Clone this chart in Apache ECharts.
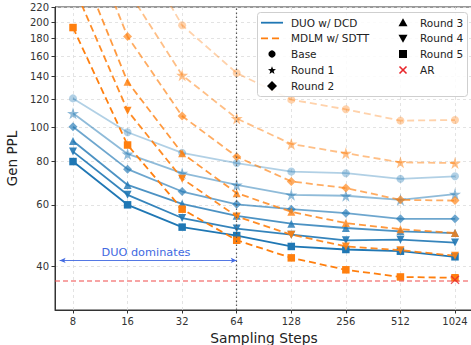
<!DOCTYPE html>
<html>
<head>
<meta charset="utf-8">
<script src="https://cdn.jsdelivr.net/npm/echarts@6/dist/echarts.min.js"></script>
<style>
  html, body { margin: 0; padding: 0; background: #fff; }
  #chart { width: 471px; height: 345px; }
</style>
</head>
<body>
<div id="chart"></div>
<script>
// sampling steps and y ticks
const steps = [8, 16, 32, 64, 128, 256, 512, 1024];
const yTicks = [40, 60, 80, 100, 120, 140, 160, 180, 200, 220];
const rounds = ['Base', 'Round 1', 'Round 2', 'Round 3', 'Round 4', 'Round 5'];

// DUO w/ DCD (solid blue)
const duoBase = [121, 96.8, 84.5, 79.0, 74.7, 73.9, 71.2, 72.4];
const duoR1 = [109.7, 83.9, 73.9, 68.4, 64.1, 63.7, 62.0, 64.4];
const duoR2 = [100.4, 75.9, 65.5, 60.2, 58.3, 56.8, 54.7, 54.7];
const duoR3 = [91.4, 68.4, 60.4, 55.8, 53.0, 51.5, 50.4, 49.8];
const duoR4 = [85.2, 64.1, 55.0, 51.3, 49.3, 47.5, 47.7, 46.8];
const duoR5 = [79.8, 60.0, 51.8, 49.0, 45.6, 44.7, 44.2, 42.6];

// MDLM w/ SDTT (dashed orange)
const mdlmBase = [700, 362, 196, 143, 120, 112.6, 104.5, 104.9];
const mdlmR1 = [480, 247, 141, 106, 89.6, 84.3, 79.4, 79.0];
const mdlmR2 = [444, 182, 107.7, 82.4, 70.0, 67.0, 62.0, 61.7];
const mdlmR3 = [327, 135, 84.3, 64.8, 57.3, 53.2, 51.1, 49.8];
const mdlmR4 = [256, 111.6, 71.3, 55.6, 49.3, 45.6, 44.5, 42.9];
const mdlmR5 = [193, 89.0, 58.3, 47.5, 42.3, 39.1, 37.3, 37.1];

// AR reference
const arPPL = 36.3;
const arPoint = [1024, 36.6];

const FONT = 'DejaVu Sans';
const BLUE = '#1f77b4';
const ORANGE = '#ff7f0e';
const STAR = 'path://M50,0L61,35L98,35L68,57L79,91L50,70L21,91L32,57L2,35L39,35Z';
const CROSS = 'path://M0,1L1,0L5,4L9,0L10,1L6,5L10,9L9,10L5,6L1,10L0,9L4,5Z';
const shapes = ['circle', STAR, 'diamond', 'triangle', 'triangle', 'rect'];
const rotates = [0, 0, 0, 0, 180, 0];
const sizes = [8, 12, 9, 8, 8, 7.5];
const alphas = [0.35, 0.5, 0.65, 0.8, 0.9, 1];

const duoRuns = [duoBase, duoR1, duoR2, duoR3, duoR4, duoR5];
const mdlmRuns = [mdlmBase, mdlmR1, mdlmR2, mdlmR3, mdlmR4, mdlmR5];

function makeSeries(name, runs, color, dashed) {
  return runs.map((vals, i) => ({
    name: name + ' ' + rounds[i],
    type: 'line',
    data: steps.map((s, j) => [s, vals[j]]),
    symbol: shapes[i],
    symbolRotate: rotates[i],
    symbolSize: sizes[i],
    showAllSymbol: true,
    clip: true,
    silent: true,
    lineStyle: { color: color, width: 1.8, opacity: alphas[i], type: dashed ? [7, 4] : 'solid' },
    itemStyle: { color: color, opacity: alphas[i] },
    z: dashed ? 3 : 2
  }));
}

// legend drawn by hand (two columns, like matplotlib)
function starPts(cx, cy, r) {
  const pts = [];
  for (let i = 0; i < 10; i++) {
    const a = -Math.PI / 2 + i * Math.PI / 5;
    const rr = i % 2 ? r * 0.42 : r;
    pts.push([cx + rr * Math.cos(a), cy + rr * Math.sin(a)]);
  }
  return pts;
}
const rowY = [22.7, 38.3, 54, 70, 86];
const c1 = 272, c2 = 403, t1 = 291, t2 = 420;
function label(x, y, text) {
  return { type: 'text', x: x, y: y, style: { text: text, font: '10.5px "DejaVu Sans"', fill: '#222', verticalAlign: 'middle' }, z: 101 };
}
const legend = [
  { type: 'rect', shape: { x: 257.5, y: 12.5, width: 210, height: 84, r: 3 }, style: { fill: 'rgba(255,255,255,0.85)', stroke: '#cfcfcf', lineWidth: 1 }, z: 100 },
  { type: 'line', shape: { x1: 261, y1: rowY[0], x2: 283, y2: rowY[0] }, style: { stroke: BLUE, lineWidth: 1.8 }, z: 101 },
  { type: 'line', shape: { x1: 261, y1: rowY[1], x2: 283, y2: rowY[1] }, style: { stroke: ORANGE, lineWidth: 1.8, lineDash: [7, 4] }, z: 101 },
  { type: 'circle', shape: { cx: c1, cy: rowY[2], r: 3.6 }, style: { fill: '#000' }, z: 101 },
  { type: 'polygon', shape: { points: starPts(c1, rowY[3] + 0.5, 4.2) }, style: { fill: '#000' }, z: 101 },
  { type: 'polygon', shape: { points: [[c1, rowY[4] - 5], [c1 + 5, rowY[4]], [c1, rowY[4] + 5], [c1 - 5, rowY[4]]] }, style: { fill: '#000' }, z: 101 },
  { type: 'polygon', shape: { points: [[c2, rowY[0] - 4.5], [c2 + 4.5, rowY[0] + 3.5], [c2 - 4.5, rowY[0] + 3.5]] }, style: { fill: '#000' }, z: 101 },
  { type: 'polygon', shape: { points: [[c2, rowY[1] + 4.5], [c2 + 4.5, rowY[1] - 3.5], [c2 - 4.5, rowY[1] - 3.5]] }, style: { fill: '#000' }, z: 101 },
  { type: 'rect', shape: { x: c2 - 4, y: rowY[2] - 4, width: 8, height: 8 }, style: { fill: '#000' }, z: 101 },
  { type: 'line', shape: { x1: c2 - 3.5, y1: rowY[3] - 3.5, x2: c2 + 3.5, y2: rowY[3] + 3.5 }, style: { stroke: '#e8262b', lineWidth: 1.6 }, z: 101 },
  { type: 'line', shape: { x1: c2 - 3.5, y1: rowY[3] + 3.5, x2: c2 + 3.5, y2: rowY[3] - 3.5 }, style: { stroke: '#e8262b', lineWidth: 1.6 }, z: 101 },
  label(t1, rowY[0], 'DUO w/ DCD'),
  label(t1, rowY[1], 'MDLM w/ SDTT'),
  label(t1, rowY[2], 'Base'),
  label(t1, rowY[3], 'Round 1'),
  label(t1, rowY[4], 'Round 2'),
  label(t2, rowY[0], 'Round 3'),
  label(t2, rowY[1], 'Round 4'),
  label(t2, rowY[2], 'Round 5'),
  label(t2, rowY[3], 'AR'),
  { type: 'text', x: 146, y: 252, style: { text: 'DUO dominates', font: '11.3px "DejaVu Sans"', fill: '#4169e1', align: 'center', verticalAlign: 'middle' }, z: 50 }
];

const chart = echarts.init(document.getElementById('chart'), null, { renderer: 'svg' });

chart.setOption({
  animation: false,
  textStyle: { fontFamily: FONT },
  grid: {
    left: 55, top: 7, width: 418, height: 303,
    outerBoundsMode: 'none',
    containLabel: false,
    show: true, borderColor: '#333', borderWidth: 1, backgroundColor: 'transparent'
  },
  xAxis: {
    type: 'log',
    logBase: 2,
    min: Math.pow(2, 3 - 0.33),
    max: Math.pow(2, 10 + 0.33),
    name: 'Sampling Steps',
    nameLocation: 'middle',
    nameGap: 19,
    nameTextStyle: { fontSize: 13.8, color: '#222', fontFamily: FONT, verticalAlign: 'top' },
    axisLine: { lineStyle: { color: '#333', width: 1 } },
    axisTick: { show: true, length: 3.5, customValues: steps, lineStyle: { color: '#333' } },
    axisLabel: { customValues: steps, fontSize: 10, color: '#333', margin: 6, formatter: v => String(v) },
    splitLine: { show: true, lineStyle: { color: '#dcdcdc', type: [3, 3], width: 0.8 } },
    minorTick: { show: false },
    minorSplitLine: { show: false }
  },
  yAxis: {
    type: 'log',
    min: 30,
    max: 221,
    name: 'Gen PPL',
    nameLocation: 'middle',
    nameGap: 35,
    nameTextStyle: { fontSize: 13.5, color: '#222', fontFamily: FONT },
    axisLine: { show: true, lineStyle: { color: '#333', width: 1 } },
    axisTick: { show: true, length: 3.5, customValues: yTicks, lineStyle: { color: '#333' } },
    axisLabel: { customValues: yTicks, fontSize: 10, color: '#333', margin: 6, formatter: v => String(v) },
    splitLine: { show: true, lineStyle: { color: '#dcdcdc', type: [3, 3], width: 0.8 } },
    minorTick: { show: false },
    minorSplitLine: { show: false }
  },
  graphic: legend,
  series: [
    ...makeSeries('DUO', duoRuns, BLUE, false),
    ...makeSeries('MDLM', mdlmRuns, ORANGE, true),
    {
      name: 'AR',
      type: 'scatter',
      data: [arPoint],
      symbol: CROSS,
      symbolSize: 9,
      itemStyle: { color: '#e8262b' },
      silent: true,
      z: 5,
      markLine: {
        silent: true,
        symbol: 'none',
        label: { show: false },
        data: [
          { yAxis: arPPL, lineStyle: { color: 'rgba(240,70,70,0.65)', width: 1.6, type: [5, 3] } },
          { xAxis: 64, lineStyle: { color: '#555', width: 1.2, type: [1.5, 2.5] } },
          [
            { coord: [6.75, 41.6], symbol: 'arrow', symbolSize: [4, 6], lineStyle: { color: '#4169e1', width: 0.9, type: 'solid' } },
            { coord: [64, 41.6], symbol: 'arrow', symbolSize: [4, 6] }
          ]
        ]
      }
    }
  ]
});
</script>
</body>
</html>
